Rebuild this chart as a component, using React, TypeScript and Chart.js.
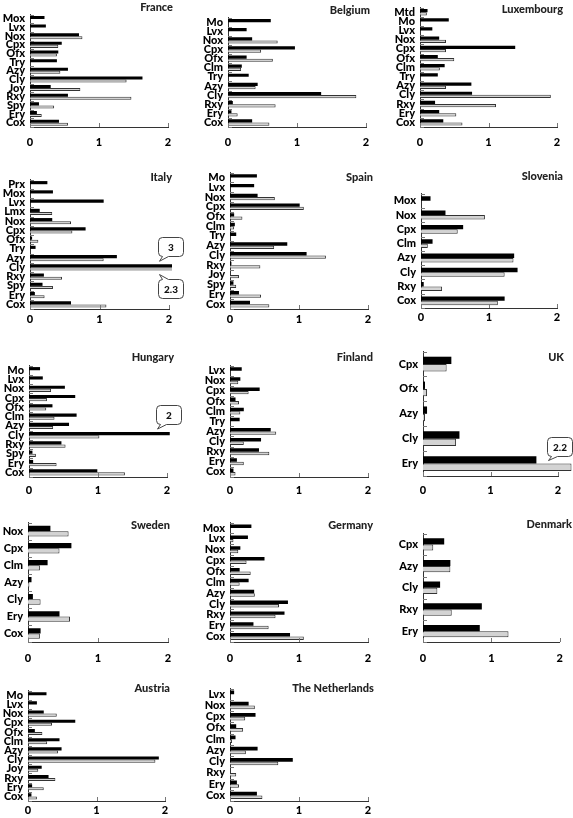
import React, { useEffect, useRef } from 'react';
import { Chart, registerables } from 'chart.js';
Chart.register(...registerables);

const X_TICKS = [0, 1, 2];

const FR_CATS = ['Mox','Lvx','Nox','Cpx','Ofx','Try','Azy','Cly','Joy','Rxy','Spy','Ery','Cox'];
const FR_A = [0.21,0.23,0.71,0.46,0.41,0.39,0.55,1.63,0.30,0.55,0.13,0.10,0.42];
const FR_B = [null,null,0.76,0.41,0.39,null,0.44,1.40,0.73,1.47,0.35,0.17,0.55];

const BE_CATS = ['Mo','Lvx','Nox','Cpx','Ofx','Clm','Try','Azy','Cly','Rxy','Ery','Cox'];
const BE_A = [0.62,0.27,0.35,0.97,0.27,0.20,0.30,0.43,1.35,0.07,0.05,0.35];
const BE_B = [null,null,0.72,0.48,0.65,0.19,null,0.40,1.86,0.69,0.14,0.60];

const LU_CATS = ['Mtd','Mo','Lvx','Nox','Cpx','Ofx','Clm','Try','Azy','Cly','Rxy','Ery','Cox'];
const LU_A = [0.11,0.42,0.18,0.28,1.39,0.26,0.36,0.26,0.75,0.76,0.22,0.28,0.34];
const LU_B = [0.10,null,null,0.38,0.38,0.50,0.29,null,0.38,1.91,1.11,0.53,0.62];

const IT_CATS = ['Prx','Mox','Lvx','Lmx','Nox','Cpx','Ofx','Try','Azy','Cly','Rxy','Spy','Ery','Cox'];
const IT_A = [0.25,0.33,1.06,0.14,0.32,0.80,0.03,0.08,1.25,3,0.20,0.18,0.07,0.59];
const IT_B = [null,null,null,0.32,0.59,0.61,0.12,null,1.06,2.3,0.46,0.33,0.21,1.10];
const IT_NOTES = ['3', '2.3'];

const ES_CATS = ['Mo','Lvx','Nox','Cpx','Ofx','Clm','Try','Azy','Cly','Rxy','Joy','Spy','Ery','Cox'];
const ES_A = [0.39,0.35,0.40,1.01,0.06,0.07,0.09,0.83,1.11,0.02,null,0.05,0.13,0.29];
const ES_B = [null,null,0.65,1.07,0.18,0.06,null,0.64,1.39,0.44,0.13,0.09,0.45,0.57];

const SI_CATS = ['Mox','Nox','Cpx','Clm','Azy','Cly','Rxy','Cox'];
const SI_A = [0.14,0.36,0.62,0.17,1.37,1.42,0.04,1.23];
const SI_B = [null,0.94,0.54,0.10,1.36,1.23,0.31,1.13];

const HU_CATS = ['Mo','Lvx','Nox','Cpx','Ofx','Clm','Azy','Cly','Rxy','Spy','Ery','Cox'];
const HU_A = [0.16,0.20,0.52,0.67,0.34,0.69,0.58,2.04,0.47,0.05,0.06,0.99];
const HU_B = [null,null,0.32,0.26,0.25,0.37,0.35,1.02,0.53,0.10,0.40,1.39];
const HU_NOTES = ['2'];

const FI_CATS = ['Lvx','Nox','Cpx','Ofx','Clm','Try','Azy','Cly','Rxy','Ery','Cox'];
const FI_A = [0.17,0.15,0.43,0.08,0.20,0.14,0.59,0.45,0.42,0.10,0.05];
const FI_B = [null,0.12,0.27,0.13,0.15,null,0.67,0.20,0.57,0.20,0.08];

const UK_CATS = ['Cpx','Ofx','Azy','Cly','Ery'];
const UK_A = [0.42,0.03,0.06,0.54,1.68];
const UK_B = [0.35,0.06,0.03,0.49,2.2];
const UK_NOTES = ['2.2'];

const SE_CATS = ['Nox','Cpx','Clm','Azy','Cly','Ery','Cox'];
const SE_A = [0.32,0.62,0.28,0.05,0.07,0.45,0.18];
const SE_B = [0.58,0.45,0.17,0.02,0.18,0.60,0.17];

const DE_CATS = ['Mox','Lvx','Nox','Cpx','Ofx','Clm','Azy','Cly','Rxy','Ery','Cox'];
const DE_A = [0.31,0.26,0.15,0.50,0.14,0.27,0.35,0.84,0.79,0.34,0.87];
const DE_B = [null,0.05,0.12,0.24,0.30,0.14,0.36,0.71,0.66,0.56,1.07];

const DK_CATS = ['Cpx','Azy','Cly','Rxy','Ery'];
const DK_A = [0.31,0.40,0.25,0.86,0.83];
const DK_B = [0.15,0.40,0.21,0.42,1.25];

const AT_CATS = ['Mo','Lvx','Nox','Cpx','Ofx','Clm','Azy','Cly','Joy','Rxy','Ery','Cox'];
const AT_A = [0.27,0.13,0.23,0.69,0.10,0.46,0.49,1.91,0.20,0.30,0.06,0.05];
const AT_B = [null,null,0.42,0.35,0.21,0.28,0.44,1.86,0.15,0.40,0.23,0.13];

const NL_CATS = ['Lvx','Nox','Cpx','Ofx','Clm','Azy','Cly','Rxy','Ery','Cox'];
const NL_A = [0.06,0.27,0.37,0.09,0.08,0.40,0.91,null,0.10,0.39];
const NL_B = [null,0.36,0.22,0.19,0.03,0.23,0.70,0.09,0.13,0.47];

const FONT = 'Lato, "Open Sans", sans-serif';
const WEIGHT = 900;

type Callout = { cat: string; ds: number; text: string; above: boolean };
type PanelDef = {
  title: string; cats: string[]; a: (number | null)[]; b: (number | null)[];
  x0: number; x2: number; top: number; bottom: number; gap: number;
  titleRight: number; titleY: number; catPct: number;
  clip?: any; callouts?: Callout[];
};

const PANELS: PanelDef[] = [
  { title: 'France', cats: FR_CATS, a: FR_A, b: FR_B, x0: 30, x2: 168, top: 7, bottom: 126.5, gap: 16, titleRight: 173, titleY: 7, catPct: 0.7 },
  { title: 'Belgium', cats: BE_CATS, a: BE_A, b: BE_B, x0: 228, x2: 366, top: 10, bottom: 126.5, gap: 16, titleRight: 370, titleY: 10, catPct: 0.7 },
  { title: 'Luxembourg', cats: LU_CATS, a: LU_A, b: LU_B, x0: 420, x2: 557, top: 0, bottom: 126.5, gap: 16, titleRight: 563, titleY: 9, catPct: 0.7 },
  { title: 'Italy', cats: IT_CATS, a: IT_A, b: IT_B, x0: 30, x2: 169, top: 172, bottom: 309, gap: 11, titleRight: 172, titleY: 177, catPct: 0.68,
    clip: { left: 0, top: 20, right: 3, bottom: 20 },
    callouts: [{ cat: 'Cly', ds: 0, text: IT_NOTES[0], above: true }, { cat: 'Cly', ds: 1, text: IT_NOTES[1], above: false }] },
  { title: 'Spain', cats: ES_CATS, a: ES_A, b: ES_B, x0: 230, x2: 368, top: 165, bottom: 309, gap: 11, titleRight: 373, titleY: 177, catPct: 0.68 },
  { title: 'Slovenia', cats: SI_CATS, a: SI_A, b: SI_B, x0: 421, x2: 557, top: 186, bottom: 308, gap: 10, titleRight: 563, titleY: 176, catPct: 0.62 },
  { title: 'Hungary', cats: HU_CATS, a: HU_A, b: HU_B, x0: 29, x2: 167, top: 358, bottom: 476.5, gap: 13.5, titleRight: 174, titleY: 357, catPct: 0.68,
    clip: { left: 0, top: 20, right: 3, bottom: 20 },
    callouts: [{ cat: 'Cly', ds: 0, text: HU_NOTES[0], above: true }] },
  { title: 'Finland', cats: FI_CATS, a: FI_A, b: FI_B, x0: 230, x2: 368, top: 358, bottom: 476.5, gap: 13.5, titleRight: 373, titleY: 357, catPct: 0.68 },
  { title: 'UK', cats: UK_CATS, a: UK_A, b: UK_B, x0: 423, x2: 558, top: 344, bottom: 475.5, gap: 14.5, titleRight: 564, titleY: 357, catPct: 0.59,
    clip: false,
    callouts: [{ cat: 'Ery', ds: 1, text: UK_NOTES[0], above: true }] },
  { title: 'Sweden', cats: SE_CATS, a: SE_A, b: SE_B, x0: 28, x2: 168, top: 515, bottom: 642, gap: 17, titleRight: 170, titleY: 525, catPct: 0.62 },
  { title: 'Germany', cats: DE_CATS, a: DE_A, b: DE_B, x0: 230, x2: 368, top: 515, bottom: 642, gap: 17, titleRight: 373, titleY: 525, catPct: 0.64 },
  { title: 'Denmark', cats: DK_CATS, a: DK_A, b: DK_B, x0: 423, x2: 563, top: 526, bottom: 642, gap: 17, titleRight: 572, titleY: 524, catPct: 0.57 },
  { title: 'Austria', cats: AT_CATS, a: AT_A, b: AT_B, x0: 28, x2: 165, top: 683, bottom: 801, gap: 10, titleRight: 170, titleY: 688, catPct: 0.66 },
  { title: 'The Netherlands', cats: NL_CATS, a: NL_A, b: NL_B, x0: 230, x2: 368, top: 681, bottom: 801, gap: 10, titleRight: 374, titleY: 688, catPct: 0.66 },
];

const innerTicks = {
  id: 'innerTicks',
  afterDatasetsDraw(chart: any) {
    const { ctx, chartArea, scales } = chart;
    const x = scales.x;
    const n = chart.data.labels.length;
    const step = (chartArea.bottom - chartArea.top) / n;
    ctx.save();
    ctx.strokeStyle = '#777';
    ctx.lineWidth = 1;
    ctx.beginPath();
    for (let i = 0; i <= n; i++) {
      const yy = Math.round(chartArea.top + i * step) + 0.5;
      ctx.moveTo(chartArea.left, yy);
      ctx.lineTo(chartArea.left + 4, yy);
    }
    X_TICKS.forEach((v) => {
      const xx = Math.round(x.getPixelForValue(v)) + 0.5;
      ctx.moveTo(xx, chartArea.bottom);
      ctx.lineTo(xx, chartArea.bottom - 4);
    });
    ctx.stroke();
    ctx.restore();
  },
};

function bubblePath(ctx: CanvasRenderingContext2D, left: number, top: number, w: number, h: number, r: number, tipX: number, tipY: number, above: boolean) {
  ctx.beginPath();
  ctx.moveTo(left + r, top);
  if (!above) {
    ctx.lineTo(left + 4, top);
    ctx.lineTo(tipX, tipY);
    ctx.lineTo(left + 10, top);
  }
  ctx.lineTo(left + w - r, top);
  ctx.arcTo(left + w, top, left + w, top + r, r);
  ctx.lineTo(left + w, top + h - r);
  ctx.arcTo(left + w, top + h, left + w - r, top + h, r);
  if (above) {
    ctx.lineTo(left + 10, top + h);
    ctx.lineTo(tipX, tipY);
    ctx.lineTo(left + 4, top + h);
  }
  ctx.lineTo(left + r, top + h);
  ctx.arcTo(left, top + h, left, top + h - r, r);
  ctx.lineTo(left, top + r);
  ctx.arcTo(left, top, left + r, top, r);
  ctx.closePath();
}

function makeCalloutPlugin(callouts: Callout[]) {
  return {
    id: 'callouts',
    afterDraw(chart: any) {
      const ctx = chart.ctx as CanvasRenderingContext2D;
      const xs = chart.scales.x;
      callouts.forEach((c) => {
        const idx = chart.data.labels.indexOf(c.cat);
        const bar = chart.getDatasetMeta(c.ds).data[idx];
        if (!bar) return;
        const p = bar.getProps(['y', 'height'], true);
        const tipX = Math.round(xs.getPixelForValue(2)) - 9.5;
        const tipY = c.above ? p.y - p.height / 2 - 3 : p.y + p.height / 2 + 4;
        const w = 25, h = 19;
        const left = Math.round(tipX - 2) + 0.5;
        const top = c.above ? Math.round(tipY - 5 - h) + 0.5 : Math.round(tipY + 4) + 0.5;
        ctx.save();
        bubblePath(ctx, left, top, w, h, 4, tipX, tipY, c.above);
        ctx.fillStyle = '#fff';
        ctx.fill();
        ctx.strokeStyle = '#444';
        ctx.lineWidth = 1;
        ctx.stroke();
        ctx.fillStyle = '#111';
        ctx.font = `${WEIGHT} 10px ${FONT}`;
        ctx.textAlign = 'center';
        ctx.textBaseline = 'middle';
        ctx.fillText(c.text, left + w / 2, top + h / 2 + 0.5);
        ctx.restore();
      });
    },
  };
}

function Panel({ p }: { p: PanelDef }) {
  const ref = useRef<HTMLCanvasElement>(null);
  const YW = 30;
  const padTop = 4;
  const rightPad = Math.min(16, 573 - p.x2);
  const bottomH = Math.round(p.gap + 10);
  const left = p.x0 - YW;
  const ctop = p.top - padTop;
  const width = Math.round(p.x2 - p.x0 + YW + rightPad);
  const height = Math.round(p.bottom - p.top + padTop + bottomH);

  useEffect(() => {
    const clip = p.clip === undefined ? undefined : p.clip;
    const dsA: any = { data: p.a, backgroundColor: '#000', borderColor: '#000', borderWidth: 0 };
    const dsB: any = { data: p.b, backgroundColor: '#d3d3d3', borderColor: '#333', borderWidth: 1 };
    if (clip !== undefined) { dsA.clip = clip; dsB.clip = clip; }
    const chart = new Chart(ref.current as HTMLCanvasElement, {
      type: 'bar',
      data: { labels: p.cats, datasets: [dsA, dsB] },
      options: {
        indexAxis: 'y',
        responsive: false,
        animation: false,
        layout: { padding: { top: padTop, right: rightPad, left: 0, bottom: 0 } },
        plugins: { legend: { display: false }, tooltip: { enabled: false }, title: { display: false } },
        datasets: { bar: { categoryPercentage: p.catPct, barPercentage: 1 } },
        scales: {
          x: {
            min: 0, max: 2,
            ticks: { stepSize: 1, padding: Math.max(0, p.gap - 7), color: '#000', font: { family: FONT, size: 11, weight: WEIGHT } },
            grid: { display: false, drawTicks: false },
            border: { display: true, color: '#333', width: 1 },
            afterFit: (s: any) => { s.height = bottomH; },
          },
          y: {
            ticks: { padding: 5, autoSkip: false, color: '#000', font: { family: FONT, size: 11, weight: WEIGHT } },
            grid: { display: false, drawTicks: false },
            border: { display: true, color: '#333', width: 1 },
            afterFit: (s: any) => { s.width = YW; },
          },
        },
      } as any,
      plugins: [innerTicks, makeCalloutPlugin(p.callouts || [])],
    });
    return () => chart.destroy();
  }, []);

  return (
    <>
      <canvas ref={ref} width={width} height={height} style={{ position: 'absolute', left, top: ctop, width, height }} />
      <div style={{ position: 'absolute', left: p.titleRight - 160, top: p.titleY - 7, width: 160, textAlign: 'right', font: `${WEIGHT} 11px ${FONT}`, lineHeight: '14px', color: '#222', whiteSpace: 'nowrap' }}>{p.title}</div>
    </>
  );
}

export default function App() {
  return (
    <div style={{ position: 'absolute', left: 0, top: 0, width: 573, height: 818, overflow: 'hidden', background: '#fff' }}>
      {PANELS.map((p) => <Panel key={p.title} p={p} />)}
    </div>
  );
}
